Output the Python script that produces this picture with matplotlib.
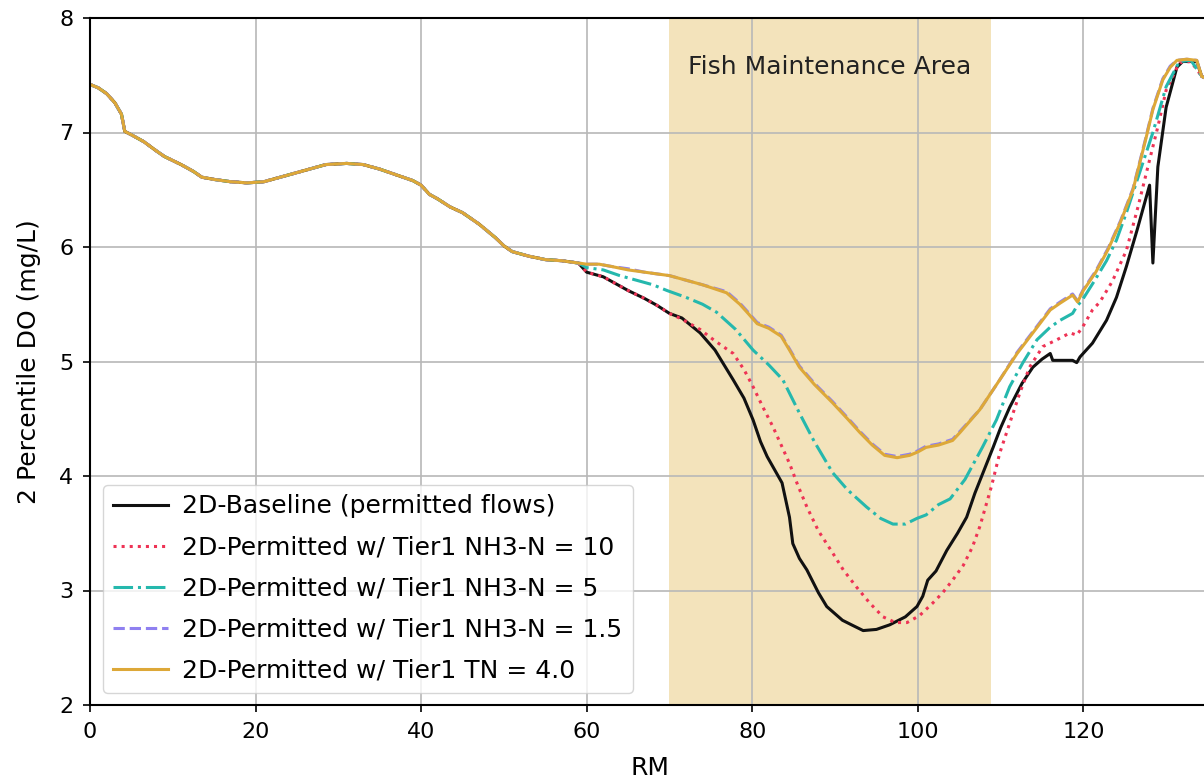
import numpy as np
import matplotlib.pyplot as plt

# river miles / DO shared by all runs upstream of the divergence
rm_up = [0, 1, 2, 3, 3.8, 4.2, 5, 6.5, 8, 9, 11, 12.5, 13.5, 15, 17, 19, 21, 23,
         25, 27, 28.5, 31, 33, 35, 37, 39, 40, 41, 42, 43.5, 45, 47, 49, 50, 51,
         53, 55, 57, 59]
do_up = [7.42, 7.39, 7.34, 7.26, 7.16, 7.01, 6.98, 6.92, 6.84, 6.79, 6.72, 6.66,
         6.61, 6.59, 6.57, 6.56, 6.57, 6.61, 6.65, 6.69, 6.72, 6.73, 6.72, 6.68,
         6.63, 6.58, 6.54, 6.46, 6.42, 6.35, 6.30, 6.20, 6.08, 6.01, 5.96, 5.92,
         5.89, 5.88, 5.86]

# baseline (permitted flows)
rm_base = [60, 62, 63.5, 65, 67, 68.5, 70, 71.5, 73.7, 75.5, 77.7, 79, 80.1, 81,
           81.8, 83.6, 84.5, 84.9, 85.7, 86.6, 88, 89, 90.9, 92, 93.4, 95, 96.6,
           98.5, 99.9, 100.6, 101.2, 102.2, 103.5, 104.8, 105.9, 106.9, 108, 109.1,
           110, 111.1, 112.6, 113.9, 115, 116, 116.3, 117.5, 118.7, 119.2, 119.6,
           121.1, 122.8, 124, 125.2, 126.5, 128, 128.4, 129, 130, 131.3, 132,
           133.7, 134.3, 135.5]
do_base = [5.78, 5.74, 5.68, 5.62, 5.55, 5.49, 5.42, 5.38, 5.25, 5.10, 4.84, 4.68,
           4.49, 4.30, 4.17, 3.94, 3.64, 3.41, 3.28, 3.18, 2.98, 2.86, 2.74, 2.70,
           2.65, 2.66, 2.70, 2.77, 2.86, 2.95, 3.09, 3.17, 3.35, 3.50, 3.64, 3.85,
           4.05, 4.25, 4.42, 4.60, 4.81, 4.95, 5.02, 5.07, 5.01, 5.01, 5.01, 4.99,
           5.04, 5.16, 5.36, 5.56, 5.83, 6.15, 6.54, 5.86, 6.70, 7.22, 7.57, 7.62,
           7.62, 7.49, 7.45]

# Tier1 NH3-N = 10
rm_nh10 = [60, 62, 63.5, 65, 67, 68.5, 70, 71.5, 73.7, 75.5, 77.7, 79, 80.1, 81.3,
           82.5, 84.5, 85.5, 86.6, 88, 89.7, 91, 92.6, 94.2, 95.8, 97.3, 98.7,
           100.2, 101.8, 103, 104.2, 105.5, 106.6, 107.5, 108.9, 109.9, 111.1,
           112.3, 113.5, 115.1, 116.8, 118.4, 119.2, 119.9, 121.1, 122, 123.5,
           125.2, 126.6, 128, 129, 130, 131.6, 133, 134.3, 135.5]
do_nh10 = [5.78, 5.74, 5.68, 5.62, 5.55, 5.49, 5.42, 5.37, 5.28, 5.18, 5.07, 4.93,
           4.78, 4.60, 4.43, 4.11, 3.92, 3.73, 3.52, 3.33, 3.18, 3.03, 2.89, 2.77,
           2.72, 2.72, 2.78, 2.89, 2.98, 3.09, 3.22, 3.38, 3.56, 3.91, 4.20, 4.46,
           4.72, 4.95, 5.13, 5.19, 5.25, 5.23, 5.30, 5.45, 5.52, 5.70, 5.97, 6.35,
           6.76, 7.05, 7.37, 7.61, 7.62, 7.49, 7.45]

# Tier1 NH3-N = 5
rm_nh5 = [60, 62, 64, 66, 68, 69.7, 72, 74, 75.7, 78, 80.1, 82, 83.7, 84.8, 85.7,
          87.5, 89.7, 91.5, 93.8, 95.5, 97, 98.5, 99.9, 101, 102.5, 103.9, 105.7,
          107.8, 109.5, 111.1, 112.7, 114.4, 116, 117.2, 118.7, 119.2, 119.9,
          121.3, 122.8, 124, 125.2, 126.8, 128.4, 130, 131.6, 133, 134.3, 135.5]
do_nh5 = [5.82, 5.80, 5.75, 5.71, 5.67, 5.62, 5.56, 5.50, 5.43, 5.28, 5.10, 4.97,
          4.84, 4.68, 4.55, 4.30, 4.03, 3.88, 3.73, 3.63, 3.58, 3.58, 3.63, 3.66,
          3.75, 3.80, 3.97, 4.25, 4.49, 4.78, 4.99, 5.19, 5.30, 5.36, 5.42, 5.48,
          5.54, 5.70, 5.88, 6.06, 6.30, 6.65, 7.00, 7.40, 7.62, 7.63, 7.49, 7.45]

# Tier1 NH3-N = 1.5
rm_nh15 = [60, 61.5, 63, 65, 67, 70, 72, 74, 76.9, 78.5, 79.5, 80.6, 82, 83.5,
           84.5, 85.7, 87.5, 89.7, 91.5, 93, 94.5, 96, 97.5, 99, 100, 101, 102.5,
           104.2, 105.1, 107.5, 109.9, 112, 113.9, 116, 117.2, 118.7, 119.3, 120,
           121.5, 123, 124.5, 126, 127.5, 128.4, 129.6, 130.5, 131.3, 132.5,
           133.7, 134.3, 135.5]
do_nh15 = [5.85, 5.85, 5.83, 5.81, 5.78, 5.75, 5.71, 5.67, 5.61, 5.51, 5.43, 5.34,
           5.30, 5.23, 5.11, 4.96, 4.81, 4.65, 4.51, 4.39, 4.28, 4.19, 4.17, 4.19,
           4.22, 4.26, 4.28, 4.32, 4.39, 4.58, 4.84, 5.08, 5.26, 5.46, 5.52, 5.59,
           5.53, 5.63, 5.79, 5.99, 6.23, 6.51, 6.94, 7.21, 7.47, 7.58, 7.63, 7.64,
           7.63, 7.49, 7.45]

# Tier1 TN = 4.0
rm_tn = [60, 61.5, 63, 65, 67, 70, 72, 74, 76.9, 78.5, 79.5, 80.6, 82, 83.5, 84.5,
         85.7, 87.5, 89.7, 91.5, 93, 94.5, 96, 97.5, 99, 100, 101, 102.5, 104.2,
         105.1, 107.5, 109.9, 112, 113.9, 116, 117.2, 118.7, 119.3, 120, 121.5,
         123, 124.5, 126, 127.5, 128.4, 129.6, 130.5, 131.3, 132.5, 133.7, 134.3,
         135.5]
do_tn = [5.85, 5.85, 5.83, 5.80, 5.78, 5.75, 5.71, 5.67, 5.60, 5.50, 5.42, 5.33,
         5.29, 5.22, 5.10, 4.95, 4.80, 4.64, 4.50, 4.38, 4.27, 4.18, 4.16, 4.18,
         4.21, 4.25, 4.27, 4.31, 4.38, 4.58, 4.84, 5.07, 5.25, 5.45, 5.51, 5.58,
         5.52, 5.62, 5.78, 5.98, 6.22, 6.50, 6.93, 7.20, 7.46, 7.57, 7.63, 7.64,
         7.63, 7.49, 7.45]

fma_start, fma_end = 70, 108.8

plt.rcParams['font.family'] = 'DejaVu Sans'
plt.rcParams['font.size'] = 16

fig = plt.figure(figsize=(12.04, 7.79), dpi=100)
ax = fig.add_axes([90 / 1204, 1 - 705 / 779, 1120 / 1204, 687 / 779])

ax.axvspan(fma_start, fma_end, color='goldenrod', alpha=0.3, lw=0)
ax.text((fma_start + fma_end) / 2, 7.57, 'Fish Maintenance Area',
        ha='center', va='center', color='#222222', fontsize=18)

def full(rm, do):
    return np.r_[rm_up, rm], np.r_[do_up, do]

ax.plot(*full(rm_base, do_base), color='#111111', lw=2.2,
        label='2D-Baseline (permitted flows)')
ax.plot(*full(rm_nh10, do_nh10), color='#ee3355', lw=2.2, ls=':',
        label='2D-Permitted w/ Tier1 NH3-N = 10')
ax.plot(*full(rm_nh5, do_nh5), color='#25b8ad', lw=2.2, ls='-.',
        label='2D-Permitted w/ Tier1 NH3-N = 5')
ax.plot(*full(rm_nh15, do_nh15), color='#8f80f0', lw=2.2, ls='--',
        label='2D-Permitted w/ Tier1 NH3-N = 1.5')
ax.plot(*full(rm_tn, do_tn), color='#dda838', lw=2.2,
        label='2D-Permitted w/ Tier1 TN = 4.0')

ax.set_xlim(0, 135.3)
ax.set_ylim(2, 8)
ax.set_xticks([0, 20, 40, 60, 80, 100, 120])
ax.grid(True, color='#b8b8b8', lw=1.2)
ax.set_xlabel('RM', fontsize=18, labelpad=10)
ax.set_ylabel('2 Percentile DO (mg/L)', fontsize=18, labelpad=13)
for s in ax.spines.values():
    s.set_linewidth(1.5)
ax.tick_params(width=1.2, length=5, pad=7)

ax.legend(loc='lower left', fontsize=18, borderaxespad=0.5, handlelength=2.2,
          handletextpad=0.6, labelspacing=0.68)

fig.savefig('out.png', dpi=100)
